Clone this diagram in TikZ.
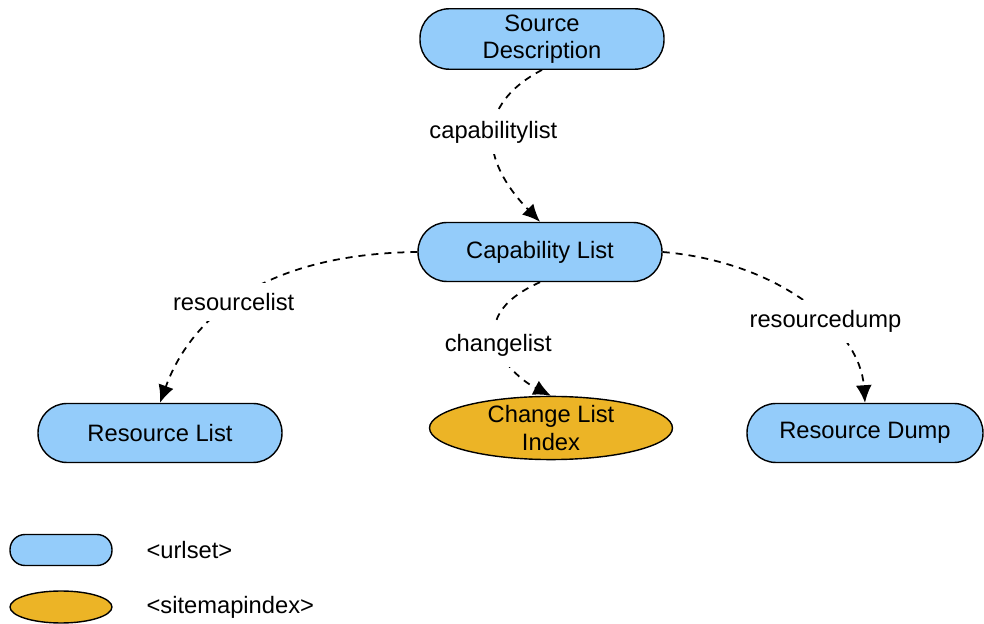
\documentclass[tikz,border=0pt]{standalone}
\usepackage{fontspec}
\setmainfont{Liberation Sans}
\usetikzlibrary{arrows.meta, shapes.geometric}
\definecolor{urlblue}{RGB}{148,204,250}
\definecolor{idxgold}{RGB}{236,180,38}

\begin{document}
\begin{tikzpicture}[x=0.02cm, y=-0.02cm, align=center, line width=0.8pt,
  font=\fontsize{13.5}{15.5}\selectfont,
  urlset/.style={draw, fill=urlblue, rounded corners=0.58cm, minimum width=4.88cm, minimum height=1.18cm},
  sidx/.style={draw, fill=idxgold, ellipse, minimum width=4.86cm, minimum height=1.18cm, inner sep=0pt},
  link/.style={dash pattern=on 4pt off 3.4pt, line width=1pt, -{Latex[length=10pt,width=9pt]}},
  lbl/.style={fill=white, inner sep=6pt}]
\useasboundingbox (0,0) rectangle (984,624);

\node[urlset] (src) at (542,39) {Source\\Description};
\node[urlset] (cap) at (540,252) {Capability List};
\node[urlset] (rl) at (160,433) {Resource List};
\node[sidx] (cli) at (551,428) {Change List\\Index};
\node[urlset, minimum width=4.72cm] (rd) at (865,433) {Resource Dump};

% legend
\node[urlset, minimum width=2.04cm, minimum height=0.62cm, rounded corners=0.3cm] (legurl) at (61,550) {};
\node[sidx, minimum width=2.04cm, minimum height=0.64cm] (legidx) at (61,607) {};
\node[anchor=west] (legurltxt) at (140,550) {<urlset>};
\node[anchor=west] (legidxtxt) at (140,607) {<sitemapindex>};

\draw[link] (src.south) .. controls (475,105) and (480,160) .. node[lbl, pos=0.48] {capabilitylist} (cap.north);
\draw[link] (cap.west) .. controls (260,254) and (190,320) .. node[lbl, pos=0.53] {resourcelist} (rl.north);
\draw[link] (cap.south) .. controls (455,320) and (510,375) .. node[lbl, pos=0.5] {changelist} (cli.north);
\draw[link] (cap.east) .. controls (780,262) and (860,330) .. node[lbl, pos=0.6] {resourcedump} (rd.north);
\end{tikzpicture}
\end{document}
